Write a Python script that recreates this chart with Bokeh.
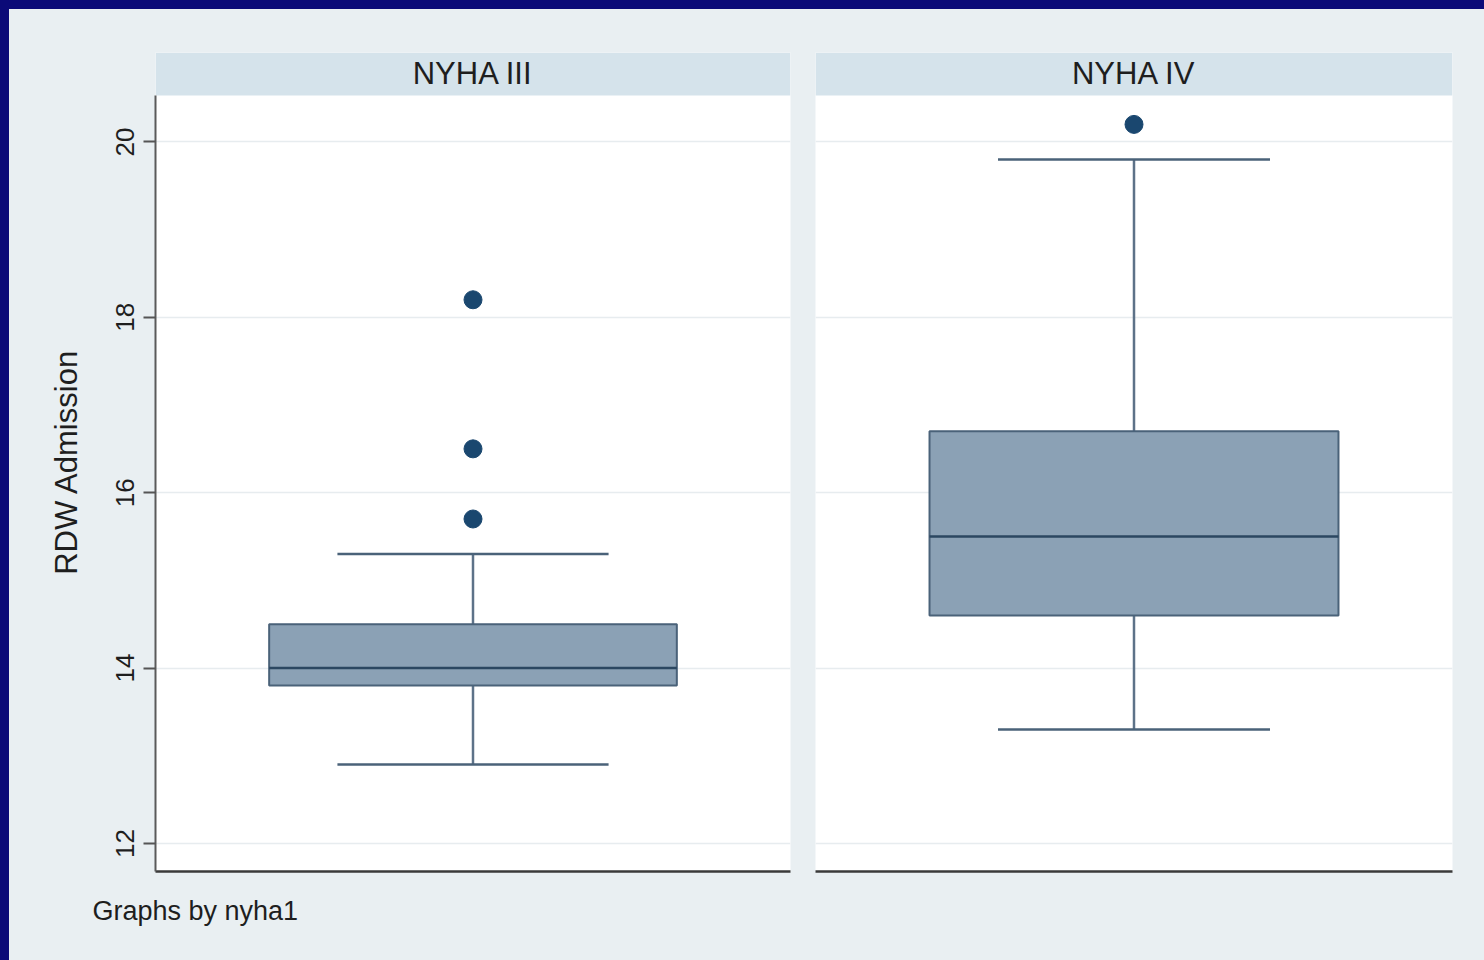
from bokeh.plotting import figure
from bokeh.layouts import row
from bokeh.models import (FactorRange, Range1d, FixedTicker, Grid, BoxAnnotation,
                          Title, LinearAxis, ColumnDataSource)
from bokeh.core.properties import value
from bokeh.embed import file_html
from bokeh.resources import INLINE

# ---- data ----
groups = ["NYHA III", "NYHA IV"]
lower_whisker = [12.9, 13.3]
q1 = [13.8, 14.6]
median = [14.0, 15.5]
q3 = [14.5, 16.7]
upper_whisker = [15.3, 19.8]
outlier_group = ["NYHA III", "NYHA III", "NYHA III", "NYHA IV"]
outlier_value = [18.2, 16.5, 15.7, 20.2]
y_ticks = [12, 14, 16, 18, 20]
y_label = "RDW Admission"
footer = "Graphs by nyha1"

FONT_NAME = "Liberation Sans"
FONT = value(FONT_NAME)
BG = "#e9eff2"
HEADER = "#d5e3eb"
BOX_FILL = "#8ba1b5"
BOX_LINE = "#4a6279"
MED_LINE = "#2b4761"
WHISK = "#5d7288"
DOT = "#1a476f"
GRID = "#e7ecef"

y_range = Range1d(11.68, 21.02)
HEAD_BOTTOM = 20.53
CAP_HALF = 0.2135
BOX_W = 0.642


def panel(i, width, mb_left, mb_right, with_yaxis):
    g = groups[i]
    p = figure(width=width, height=951, x_range=FactorRange(factors=[g]),
               y_range=y_range, output_backend="svg", toolbar_location=None,
               title=None, min_border_left=mb_left, min_border_right=mb_right,
               min_border_top=43, min_border_bottom=89,
               x_axis_location=None,
               y_axis_location="left" if with_yaxis else None)
    p.border_fill_color = BG
    p.background_fill_color = "white"
    p.outline_line_color = None
    for gr in list(p.xgrid) + list(p.ygrid):
        gr.visible = False
    if with_yaxis:
        ax = p.yaxis[0]
        ax.ticker = FixedTicker(ticks=y_ticks)
        ax.bounds = (11.68, HEAD_BOTTOM)
        ax.major_label_orientation = "vertical"
        ax.major_label_text_font = FONT_NAME
        ax.major_label_text_font_size = "26px"
        ax.major_label_text_color = "#1e1e1e"
        ax.major_label_standoff = 9
        ax.major_tick_out = 12
        ax.major_tick_in = 0
        ax.major_tick_line_color = "#555555"
        ax.major_tick_line_width = 2
        ax.minor_tick_line_color = None
        ax.axis_line_color = "#5a5a5a"
        ax.axis_line_width = 2
        ax.axis_label = y_label
        ax.axis_label_text_font = FONT_NAME
        ax.axis_label_text_font_size = "31px"
        ax.axis_label_text_font_style = "normal"
        ax.axis_label_text_color = "#1e1e1e"
        ax.axis_label_standoff = 30
    p.add_layout(Grid(dimension=1, ticker=FixedTicker(ticks=y_ticks),
                      grid_line_color=GRID, grid_line_width=1.5))

    # bottom axis: line only
    xa = LinearAxis(ticker=FixedTicker(ticks=[]), axis_line_color="#3a3a3a",
                    axis_line_width=2.5, major_tick_line_color=None,
                    minor_tick_line_color=None)
    p.add_layout(xa, "below")

    # header strip
    p.add_layout(BoxAnnotation(bottom=HEAD_BOTTOM, fill_color=HEADER, fill_alpha=1,
                               line_color=None, level="underlay"))
    p.text(x=[g], y=[(HEAD_BOTTOM + 21.02) / 2], text=[g], text_font=FONT,
           text_font_size="31px", text_color="#1e1e1e", text_align="center",
           text_baseline="middle")

    src = ColumnDataSource(dict(
        x=[g], q1=[q1[i]], q3=[q3[i]], med=[median[i]],
        lo=[lower_whisker[i]], hi=[upper_whisker[i]],
        cl=[(g, -CAP_HALF)], cr=[(g, CAP_HALF)],
        bl=[(g, -BOX_W / 2)], br=[(g, BOX_W / 2)],
    ))
    # whiskers
    p.segment(x0="x", y0="q3", x1="x", y1="hi", source=src, line_color=WHISK, line_width=2.5)
    p.segment(x0="x", y0="q1", x1="x", y1="lo", source=src, line_color=WHISK, line_width=2.5)
    p.segment(x0="cl", y0="hi", x1="cr", y1="hi", source=src, line_color=BOX_LINE, line_width=2.5)
    p.segment(x0="cl", y0="lo", x1="cr", y1="lo", source=src, line_color=BOX_LINE, line_width=2.5)
    # box
    p.vbar(x="x", bottom="q1", top="q3", width=BOX_W, source=src,
           fill_color=BOX_FILL, line_color=BOX_LINE, line_width=2)
    p.segment(x0="bl", y0="med", x1="br", y1="med", source=src, line_color=MED_LINE, line_width=2.5)
    # outliers
    ox = [og for og in outlier_group if og == g]
    oy = [v for og, v in zip(outlier_group, outlier_value) if og == g]
    p.scatter(x=ox, y=oy, size=18, marker="circle", fill_color=DOT, line_color=DOT)
    return p


p1 = panel(0, 793, 146, 12, True)
p2 = panel(1, 673, 13, 23, False)

p1.add_layout(Title(text=footer, align="left", offset=-63, standoff=44,
                    text_font=FONT_NAME, text_font_size="27px",
                    text_font_style="normal", text_color="#1e1e1e"), "below")

layout = row(p1, p2, spacing=0)

TEMPLATE = """
{% block postamble %}
<style>
html { background: #e9eff2; }
html, body { margin: 0 !important; padding: 0 !important; }
body { border-top: 9px solid #0b0a78; border-left: 9px solid #0b0a78; background: #e9eff2; box-sizing: border-box; }
</style>
{% endblock %}
"""

open("out.html", "w").write(file_html(layout, INLINE, template=TEMPLATE))
